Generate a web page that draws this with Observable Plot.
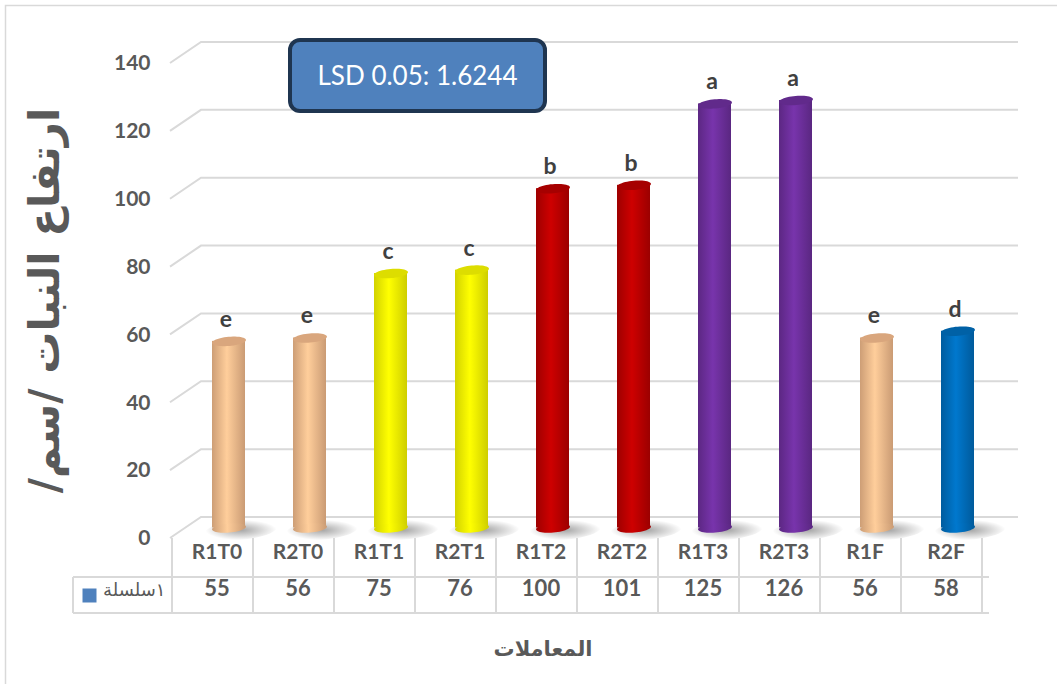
<!DOCTYPE html>
<html><head><meta charset="utf-8">
<script src="https://cdn.jsdelivr.net/npm/d3@7"></script>
<script src="https://cdn.jsdelivr.net/npm/@observablehq/plot@0.6"></script>
<style>body{margin:0;background:#fff}</style>
</head><body><div id="chart"></div>
<script>
const categories = ["R1T0","R2T0","R1T1","R2T1","R1T2","R2T2","R1T3","R2T3","R1F","R2F"];
const values = [55,56,75,76,100,101,125,126,56,58];
const letters = ["e","e","c","c","b","b","a","a","e","d"];
const palette = ["#FAC090","#FAC090","#FFFF00","#FFFF00","#C00000","#C00000","#7030A0","#7030A0","#FAC090","#0070C0"];
const yTicks = [0,20,40,60,80,100,120,140];
const yTitle = "ارتفاع النبات /سم/";
const xTitle = "المعاملات";
const seriesName = "سلسلة\u200E١";
const lsdNote = "LSD 0.05: 1.6244";

const data = categories.map((c,i)=>({cat:c, value:values[i], letter:letters[i], color:palette[i], i}));

const DX = 12, DY = -10.5;      // cylinder depth offset
const BX = 29, BY = -21;        // back wall offset
const GRID = "#d9d9d9", INK = "#595959";
const ARABIC = "'DejaVu Sans', sans-serif";

// slightly tilted ellipse (3D cylinder cap)
const ellipse = {draw(ctx, size){
  const rx = Math.sqrt(size/Math.PI), ry = rx*0.27, a = -5*Math.PI/180, n = 48;
  for (let k=0;k<=n;k++){
    const t = 2*Math.PI*k/n, ex = rx*Math.cos(t), ey = ry*Math.sin(t);
    const px = ex*Math.cos(a) - ey*Math.sin(a), py = ex*Math.sin(a) + ey*Math.cos(a);
    if (k===0) ctx.moveTo(px,py); else ctx.lineTo(px,py);
  }
  ctx.closePath();
}};

function backdrop(index, scales, vals, dim){
  const g = d3.create("svg:g");
  const defs = g.append("defs");
  data.forEach(d=>{
    const c = d3.color(d.color);
    const lg = defs.append("linearGradient").attr("id",`cyl-${d.i}`).attr("x1",0).attr("x2",1).attr("y1",0).attr("y2",0);
    lg.append("stop").attr("offset","0%").attr("stop-color",c.darker(0.55).formatHex());
    lg.append("stop").attr("offset","45%").attr("stop-color",c.brighter(0.2).formatHex());
    lg.append("stop").attr("offset","100%").attr("stop-color",c.darker(0.6).formatHex());
  });
  const rg = defs.append("radialGradient").attr("id","shadow");
  rg.append("stop").attr("offset","0%").attr("stop-color","#000").attr("stop-opacity",0.35);
  rg.append("stop").attr("offset","100%").attr("stop-color","#000").attr("stop-opacity",0);
  g.append("path").attr("d",`M5.5,${dim.height}V5.5H${dim.width}`)
    .attr("fill","none").attr("stroke",GRID).attr("stroke-width",1.5);
  const x0 = dim.marginLeft, x1 = dim.width - dim.marginRight;
  for (const t of yTicks){
    const yy = scales.y(t);
    g.append("path").attr("d",`M${x0-2},${yy}L${x0+BX},${yy+BY}L${x1+BX},${yy+BY}`)
      .attr("fill","none").attr("stroke",GRID).attr("stroke-width",2);
  }
  return g.node();
}

function yAxisTitle(index, scales, vals, dim){
  const cx = dim.marginLeft - 128, cy = (dim.marginTop + dim.height - dim.marginBottom)/2;
  return d3.create("svg:text")
    .attr("transform",`translate(${cx},${cy}) rotate(-90)`)
    .attr("direction","rtl").attr("text-anchor","middle").attr("dy","0.35em")
    .attr("font-family",ARABIC).attr("font-size",42).attr("font-weight","bold").attr("fill",INK)
    .text(yTitle).node();
}

function tableGrid(index, scales, vals, dim){
  const g = d3.create("svg:g").attr("stroke",GRID).attr("stroke-width",2).attr("fill","none");
  const x0 = dim.marginLeft, x1 = dim.width - dim.marginRight;
  const step = scales.x(categories[1]) - scales.x(categories[0]);
  const top = dim.height - dim.marginBottom, mid = top + 39, bot = top + 75, lx = x0 - 99;
  for (let k=0;k<=categories.length;k++){
    const xx = x0 + k*step;
    g.append("line").attr("x1",xx).attr("x2",xx).attr("y1",top).attr("y2",bot);
  }
  g.append("line").attr("x1",lx).attr("x2",lx).attr("y1",mid).attr("y2",bot);
  g.append("line").attr("x1",lx).attr("x2",x1).attr("y1",mid).attr("y2",mid);
  g.append("line").attr("x1",lx).attr("x2",x1).attr("y1",bot).attr("y2",bot);
  return g.node();
}

function lsdBox(index, scales, vals, dim){
  const g = d3.create("svg:g");
  const x = scales.x(categories[1]) + 33, y = 40, w = 255, h = 71;
  g.append("rect").attr("x",x).attr("y",y).attr("width",w).attr("height",h).attr("rx",10)
    .attr("fill","#4F81BD").attr("stroke","#1F3550").attr("stroke-width",4);
  g.append("text").attr("x",x+w/2).attr("y",y+h/2).attr("dy","0.35em").attr("text-anchor","middle")
    .attr("fill","#fff").attr("font-size",26).attr("font-family","Lato, sans-serif").text(lsdNote);
  return g.node();
}

const chart = Plot.plot({
  width: 1057, height: 684,
  marginLeft: 172, marginRight: 68, marginTop: 63, marginBottom: 146,
  x: {domain: categories, padding: 0, axis: null},
  y: {domain: [0,140], axis: null},
  color: {type: "identity"},
  style: {fontFamily: "Lato, 'DejaVu Sans', sans-serif", background: "#fff", overflow: "visible"},
  marks: [
    backdrop,
    Plot.axisY(yTicks, {tickSize: 0, tickPadding: 22, fontSize: 21, fontWeight: "bold", fill: INK, label: null}),
    Plot.dot(data, {x: "cat", y: d=>0, dx: DX+12, dy: DY+2, symbol: ellipse, r: 36, fill: ()=>"url(#shadow)", stroke: "none"}),
    Plot.barY(data, {x: "cat", y: "value", fill: d=>`url(#cyl-${d.i})`, insetLeft: 24, insetRight: 24, dx: DX, dy: DY}),
    Plot.dot(data, {x: "cat", y: d=>0, dx: DX, dy: DY, symbol: ellipse, r: 17, fill: d=>`url(#cyl-${d.i})`, stroke: "none"}),
    Plot.dot(data, {x: "cat", y: "value", dx: DX, dy: DY, symbol: ellipse, r: 17, fill: d=>d3.color(d.color).darker(0.4).formatHex(), stroke: "none"}),
    Plot.text(data, {x: "cat", y: "value", text: "letter", dx: DX-3, dy: DY-22, fontSize: 23, fontWeight: "bold", fill: "#404040"}),
    tableGrid,
    Plot.text(categories, {x: d=>d, frameAnchor: "bottom", dy: 20, fontSize: 21, fontWeight: "bold", fill: INK}),
    Plot.text(data, {x: "cat", text: d=>String(d.value), frameAnchor: "bottom", dy: 57, fontSize: 22, fontWeight: "bold", fill: INK}),
    Plot.dot([seriesName], {frameAnchor: "bottom-left", dx: -83, dy: 57, symbol: "square", r: 7.9, fill: "#4F81BD", stroke: "none"}),
    Plot.text([seriesName], {frameAnchor: "bottom-left", dx: -7, dy: 57, textAnchor: "end", fontSize: 18, fill: INK, fontFamily: ARABIC}),
    yAxisTitle,
    Plot.text([xTitle], {frameAnchor: "bottom", dx: -38, dy: 117, fontSize: 21, fontWeight: "bold", fill: INK, fontFamily: ARABIC}),
    lsdBox
  ]
});
document.getElementById("chart").appendChild(chart);
</script>
</body></html>
